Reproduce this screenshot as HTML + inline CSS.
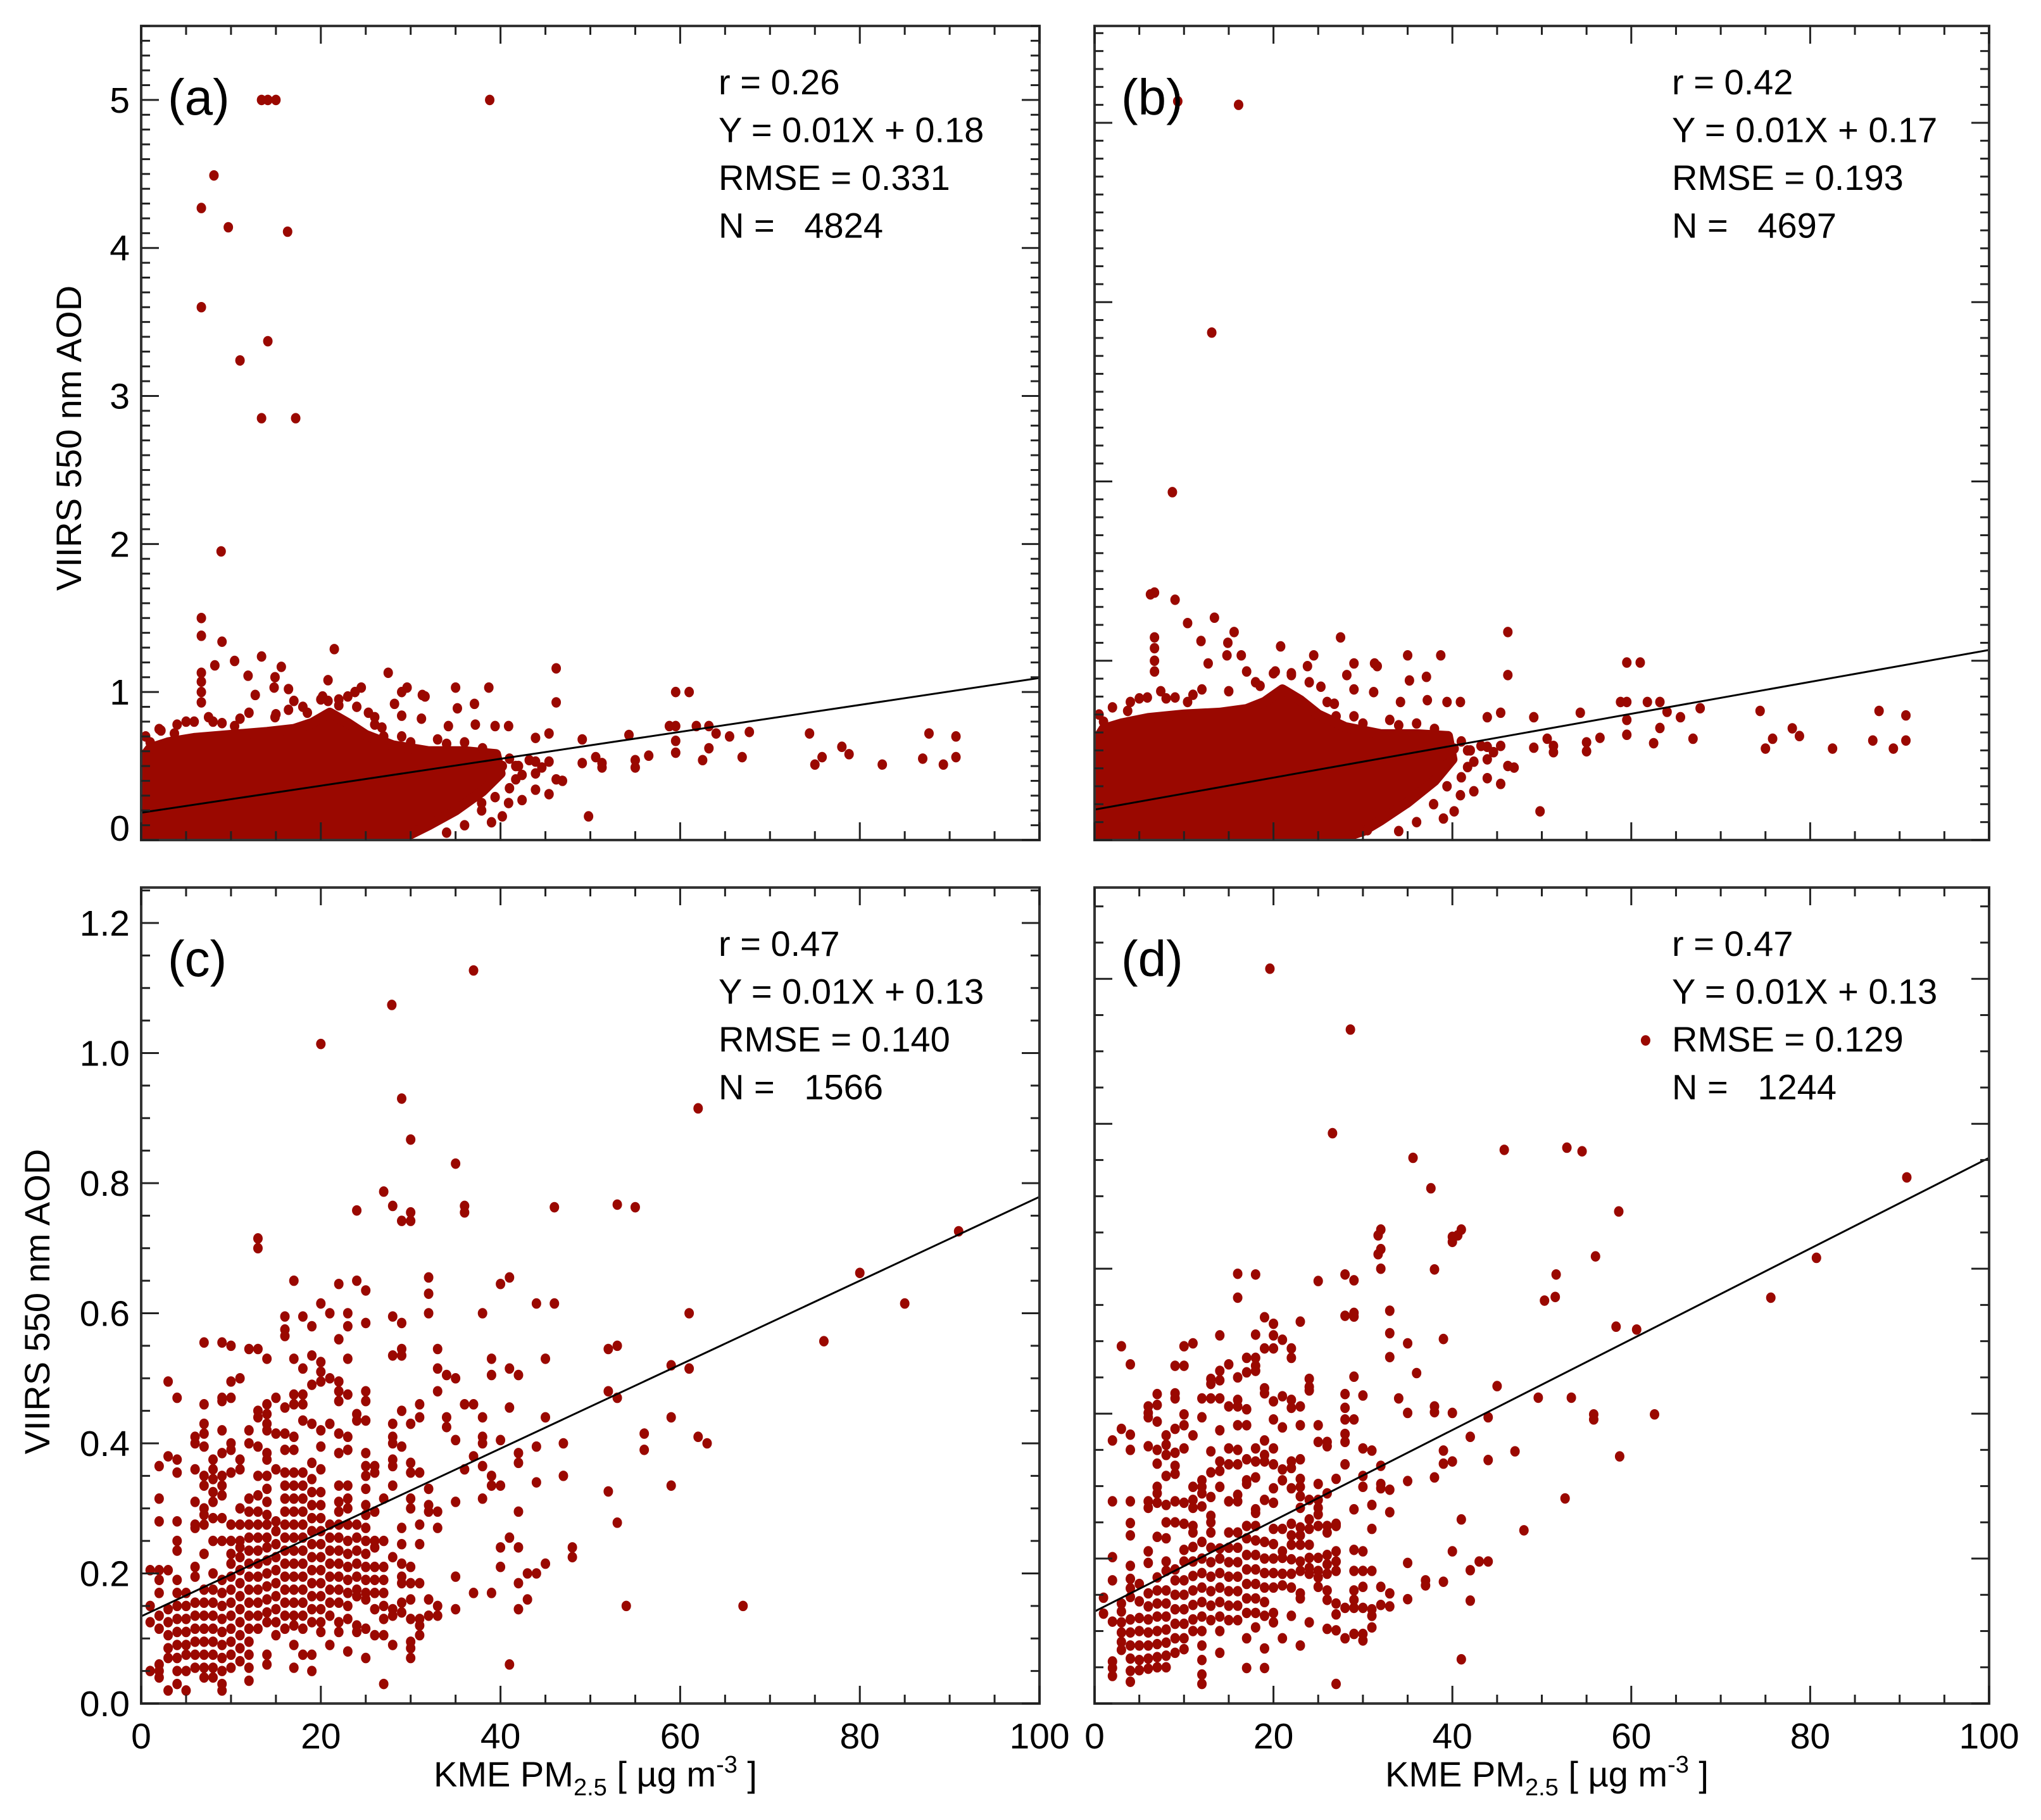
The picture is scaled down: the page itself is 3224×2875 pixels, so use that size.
<!DOCTYPE html>
<html><head><meta charset="utf-8"><title>VIIRS AOD vs KME PM2.5</title>
<style>html,body{margin:0;padding:0;background:#fff}svg{display:block}text{font-family:"Liberation Sans",Arial,sans-serif;fill:#000}</style>
</head><body>
<svg id="fig" xmlns="http://www.w3.org/2000/svg" width="3224" height="2875" viewBox="0 0 3224 2875">
<rect width="3224" height="2875" fill="#fff"/>
</svg>
<script>
// ---------- data (x = KME PM2.5, y = VIIRS AOD) ----------
const xTicks = [0,20,40,60,80,100];
const xTickLabels = ["0","20","40","60","80","100"];
const yTicksAB = [0,1,2,3,4,5];
const yTickLabelsA = ["0","1","2","3","4","5"];
const yTicksCD = [0,0.2,0.4,0.6,0.8,1.0,1.2];
const yTickLabelsC = ["0.0","0.2","0.4","0.6","0.8","1.0","1.2"];

const statsA = ["r = 0.26","Y = 0.01X + 0.18","RMSE = 0.331","N =   4824"];
const statsB = ["r = 0.42","Y = 0.01X + 0.17","RMSE = 0.193","N =   4697"];
const statsC = ["r = 0.47","Y = 0.01X + 0.13","RMSE = 0.140","N =   1566"];
const statsD = ["r = 0.47","Y = 0.01X + 0.13","RMSE = 0.129","N =   1244"];

const fitA = [0.0091, 0.185];
const fitB = [0.0089, 0.17];
const fitC = [0.00645, 0.134];
const fitD = [0.00626, 0.127];

// dense-core outline (a)
const aCoreX = [0,0.5,1,3,6,10,14,17,19,21,23,25,28,32,36,39.5,40,38,35,32,30,27,0];
const aCoreY = [0,0.58,0.62,0.66,0.69,0.71,0.73,0.75,0.79,0.86,0.79,0.71,0.64,0.60,0.60,0.58,0.45,0.33,0.20,0.10,0.04,0,0];
const aX = [13.4,14.1,15,38.8,6.7,8.1,9.7,16.3,6.7,11,14.1,13.4,17.2,8.9,
 6.7,6.7,9,21.5,10.4,13.4,8.2,15.6,27.5,46.2,11.9,14.9,20.8,6.7,6.7,6.7,6.7,35,38.7,59.5,61,46.2,35.2,37.1,31.3,31.6,14.8,16.4,
 20.2,20.8,22,23,23.8,24.5,29,29.6,28.2,29,31.2,25.3,26,26.8,17,16.4,18.5,14.9,12.7,7.5,5.9,9,10.4,2.2,3.7,
 2,4,5,8,11,12,15,18,20,22,24,26,27,29,30,33,34,36,38,41,42,41,39,36,34,1,0.5,
 40.9,39.4,37.2,34.2,43.9,45.4,49.1,54.3,58.8,59.5,61.8,63.2,64,65.5,67.7,74.4,87.7,90.7,59.5,63.2,59.5,66.9,75,75.8,78,78.8,82.5,87,89.3,90.7,62.5,56.5,55,55,51.3,51.3,50.6,49.1,45.4,43.9,43.2,41.7,40.2,44.6,43.9,42.4,41.7,39.4,38.7,46.2,46.9,43.9,45.4,42.4,40.9,39.4,37.9,37.9,40.2,49.8,30.5,34.9,32];
const aY = [5,5,5,5,4.27,4.49,4.14,4.11,3.6,3.24,3.37,2.85,2.85,1.95,
 1.50,1.38,1.34,1.29,1.21,1.24,1.18,1.17,1.13,1.16,1.11,1.10,1.08,1.13,1.07,1.00,0.93,1.03,1.03,1.0,1.0,0.93,0.89,0.92,0.98,0.97,1.03,1.02,
 0.97,0.94,0.91,0.97,1.0,1.03,1.0,1.03,0.92,0.84,0.82,0.86,0.83,0.76,0.94,0.88,0.86,0.83,0.98,0.83,0.80,0.79,0.77,0.74,0.72,
 0.75,0.78,0.80,0.80,0.82,0.86,0.85,0.90,0.95,0.95,0.90,0.78,0.70,0.70,0.66,0.68,0.65,0.66,0.62,0.55,0.50,0.35,0.12,0.10,0.05,0.66,0.70,
 0.77,0.77,0.78,0.77,0.69,0.72,0.68,0.71,0.77,0.77,0.77,0.77,0.72,0.70,0.73,0.72,0.72,0.70,0.67,0.62,0.59,0.56,0.51,0.56,0.63,0.58,0.51,0.55,0.51,0.56,0.54,0.57,0.54,0.49,0.52,0.49,0.56,0.52,0.53,0.53,0.54,0.50,0.50,0.49,0.45,0.44,0.41,0.42,0.42,0.41,0.40,0.34,0.31,0.27,0.25,0.29,0.25,0.20,0.16,0.16,0.06,0.20,0.14];

// dense-core outline (b)
const bCoreX = [0,0.5,1,3,6,10,14,17,19,21,23,25,28,32,36,39.5,40,38,35,32,30,27,0];
const bCoreY = [0,0.58,0.62,0.65,0.68,0.70,0.71,0.73,0.77,0.84,0.78,0.70,0.63,0.59,0.59,0.58,0.45,0.33,0.21,0.11,0.05,0,0];
const bX = [9.3,16.1,13.1,8.7,6.25,
 6.7,9,10.4,13.4,15.6,27.5,46.2,6.7,6.7,6.7,6.7,11.9,14.9,20.8,35,38.7,59.5,61,46.2,35.2,37.1,31.3,31.6,14.8,16.4,7.4,5.9,9,10.4,3.7,2.2,20.2,22,23.8,24.5,29,28.2,29,31.2,25.3,26.8,17,18.5,12.7,
 2,4,5,8,11,12,15,18,20,22,24,26,27,29,30,33,34,36,38,41,42,41,39,36,34,1,0.5,
 40.9,39.4,37.2,34.2,43.9,45.4,49.1,54.3,58.8,59.5,61.8,63.2,64,65.5,67.7,74.4,87.7,90.7,59.5,63.2,59.5,66.9,75,75.8,78,78.8,82.5,87,89.3,90.7,62.5,56.5,55,55,51.3,51.3,50.6,49.1,45.4,43.9,43.2,41.7,40.2,44.6,43.9,42.4,41.7,39.4,38.7,46.2,46.9,43.9,45.4,42.4,40.9,39.4,37.9,40.2,49.8,30.5,34.9,32];
const bY = [4.12,4.1,2.83,1.94,1.37,
 1.38,1.34,1.21,1.24,1.16,1.13,1.16,1.13,1.07,1.0,0.94,1.11,1.10,1.08,1.03,1.03,0.99,0.99,0.92,0.89,0.91,0.985,0.97,1.03,1.03,0.83,0.795,0.795,0.77,0.72,0.565,0.94,0.92,0.97,1.03,0.985,0.92,0.84,0.825,0.855,0.76,0.94,0.86,0.985,
 0.74,0.77,0.79,0.79,0.81,0.84,0.83,0.88,0.93,0.93,0.88,0.77,0.69,0.69,0.65,0.67,0.64,0.65,0.62,0.55,0.50,0.35,0.12,0.10,0.05,0.66,0.70,
 0.77,0.77,0.78,0.77,0.685,0.71,0.685,0.71,0.77,0.77,0.77,0.77,0.715,0.685,0.735,0.72,0.72,0.695,0.67,0.625,0.587,0.565,0.51,0.565,0.623,0.58,0.51,0.555,0.51,0.555,0.54,0.57,0.545,0.495,0.525,0.49,0.565,0.515,0.525,0.52,0.525,0.5,0.51,0.49,0.45,0.437,0.407,0.42,0.42,0.413,0.404,0.345,0.313,0.272,0.25,0.30,0.2,0.16,0.16,0.055,0.207,0.155];

// panel (c): columns by integer PM2.5
const cColX = [1,2,3,4,5,6,7,8,9,10,11,12,13,14,15,16,17,18,19,20,21,22,23,24,25,26,27,28,29,30,31,32,33,34,35,36,37,38,39,40,41,42,43,44,45,46,47,48];
const cColY = [
 [.205,.15,.125,.05],
 [.365,.315,.28,.205,.19,.17,.135,.115,.06,.05,.04],
 [.495,.38,.205,.145,.125,.105,.085,.07,.02],
 [.47,.375,.355,.28,.25,.235,.19,.17,.15,.13,.11,.09,.07,.05,.03],
 [.17,.15,.13,.11,.09,.075,.05,.02],
 [.41,.4,.36,.31,.275,.27,.21,.195,.155,.135,.115,.095,.075,.055],
 [.555,.46,.43,.415,.395,.35,.335,.3,.29,.275,.23,.175,.155,.135,.115,.095,.075,.055,.04],
 [.375,.36,.345,.325,.31,.285,.25,.2,.175,.155,.135,.115,.095,.075,.055,.04],
 [.555,.47,.465,.42,.385,.35,.335,.32,.285,.25,.19,.17,.15,.13,.11,.09,.07,.05,.03,.02],
 [.55,.495,.47,.4,.39,.355,.275,.25,.23,.215,.195,.175,.155,.135,.115,.095,.075,.055],
 [.5,.375,.36,.3,.275,.25,.24,.225,.205,.185,.165,.145,.125,.105,.085,.065],
 [.545,.42,.4,.315,.295,.275,.255,.235,.215,.195,.175,.155,.135,.115,.095,.075,.055,.035],
 [.715,.545,.45,.44,.395,.35,.32,.295,.275,.255,.235,.215,.195,.175,.155,.135,.115],
 [.53,.46,.445,.43,.42,.385,.375,.35,.33,.31,.29,.275,.255,.24,.22,.2,.18,.16,.14,.125,.075,.06],
 [.47,.415,.36,.28,.265,.245,.225,.205,.185,.165,.145,.125,.105],
 [.595,.575,.565,.455,.415,.39,.355,.335,.315,.295,.275,.255,.235,.215,.195,.175,.155,.135,.115],
 [.65,.53,.475,.46,.41,.39,.355,.335,.315,.295,.275,.255,.235,.215,.195,.175,.155,.135,.12,.09,.055],
 [.595,.515,.475,.46,.435,.355,.335,.315,.295,.275,.255,.235,.215,.195,.175,.155,.135,.115,.075],
 [.58,.535,.49,.43,.37,.345,.325,.305,.285,.265,.245,.225,.205,.185,.165,.145,.125,.075,.05],
 [.615,.525,.51,.495,.42,.395,.36,.325,.305,.285,.265,.245,.225,.205,.185,.165,.145,.125,.11],
 [.6,.5,.43,.275,.255,.235,.215,.195,.175,.155,.135,.09],
 [.645,.56,.495,.48,.465,.415,.385,.335,.31,.295,.275,.255,.235,.215,.195,.175,.155,.125,.11],
 [.6,.58,.53,.475,.41,.39,.335,.315,.3,.275,.25,.23,.21,.19,.17,.15,.13,.08],
 [.65,.445,.435,.275,.255,.235,.215,.195,.175,.165,.12,.11],
 [.635,.585,.48,.465,.435,.385,.365,.35,.33,.305,.29,.27,.25,.23,.21,.19,.17,.16,.115,.07],
 [.365,.355,.295,.25,.24,.21,.19,.17,.145,.105],
 [.315,.25,.21,.19,.17,.15,.13,.105,.03],
 [.595,.535,.43,.41,.4,.375,.365,.335,.225,.145,.135,.09],
 [.585,.545,.535,.45,.395,.27,.245,.215,.195,.185,.155,.14],
 [.755,.43,.37,.355,.315,.3,.21,.185,.16,.13,.095,.085,.07],
 [.46,.44,.355,.275,.245,.185,.13,.12,.105],
 [.655,.63,.6,.33,.305,.295,.16,.135],
 [.545,.515,.48,.295,.27,.15,.135],
 [.505,.44,.425],
 [.5,.405,.31,.195,.145],
 [.765,.46,.36],
 [.46,.38,.17],
 [.6,.44,.41,.4,.365,.315],
 [.53,.505,.35,.335,.17],
 [.645,.405,.335,.24,.21],
 [.655,.515,.455,.255,.06],
 [.505,.385,.37,.295,.24,.185,.145],
 [.2,.16],
 [.615,.395,.34,.2],
 [.53,.44,.215],
 [.615],
 [.4,.35],
 [.24]];
const cX = [37,27.9,20,29,30,62,35,27,28,29,30,13,24,36,46,53,55,53,52,61,59,61,52,53,56,56,59,63,62,59,53,54,67,76,80,85,91,52,48];
const cY = [1.127,1.074,1.014,0.93,0.867,0.915,0.83,0.787,0.765,0.742,0.742,0.70,0.758,0.755,0.763,0.767,0.763,0.55,0.545,0.6,0.52,0.515,0.48,0.47,0.415,0.39,0.44,0.4,0.41,0.335,0.278,0.15,0.15,0.557,0.662,0.615,0.726,0.326,0.225];

// panel (d): columns by integer PM2.5
const dColX = [1,2,3,4,5,6,7,8,9,10,11,12,13,14,15,16,17,18,19,20,21,22,23,24,25,26,27,28,29,30,31,32,33,34,35,36,37,38,39,40,41,42,43,44,45,47,48];
const dColY = [
 [.146,.124],
 [.363,.279,.202,.17,.113,.058,.049,.038],
 [.493,.379,.138,.127,.112,.098,.085,.074],
 [.468,.371,.35,.279,.249,.232,.19,.172,.159,.147,.116,.098,.08,.062,.045,.03],
 [.165,.141,.118,.1,.08,.06,.046],
 [.41,.401,.395,.355,.279,.27,.21,.194,.152,.134,.116,.098,.08,.062,.048],
 [.427,.412,.389,.35,.331,.299,.29,.277,.23,.174,.156,.138,.12,.1,.082,.064,.05],
 [.37,.357,.343,.314,.274,.25,.228,.196,.183,.156,.138,.12,.102,.084,.066,.05],
 [.466,.428,.421,.379,.346,.328,.317,.279,.25,.185,.17,.15,.13,.11,.09,.07],
 [.493,.466,.399,.384,.352,.277,.248,.212,.196,.17,.15,.13,.11,.09,.075],
 [.497,.37,.299,.281,.27,.245,.236,.216,.196,.176,.156,.136,.116,.1],
 [.421,.395,.308,.299,.29,.272,.223,.2,.18,.16,.14,.12,.1,.08,.06,.04,.027],
 [.448,.441,.421,.348,.319,.285,.259,.25,.236,.215,.195,.175,.155,.135,.115],
 [.508,.459,.446,.421,.377,.334,.321,.299,.214,.2,.18,.16,.14,.12,.1,.07],
 [.468,.41,.352,.33,.279,.236,.215,.195,.175,.155,.135,.115],
 [.593,.56,.45,.419,.41,.384,.35,.33,.288,.279,.236,.215,.195,.175,.155,.135,.115],
 [.477,.457,.406,.384,.337,.308,.303,.245,.228,.205,.185,.165,.145,.125,.09,.049],
 [.592,.509,.477,.466,.459,.352,.334,.312,.268,.263,.245,.225,.205,.185,.165,.145,.125,.105],
 [.533,.49,.435,.428,.363,.343,.334,.281,.223,.2,.18,.16,.14,.121,.076,.049],
 [.524,.508,.49,.417,.392,.352,.33,.297,.277,.241,.22,.2,.18,.16,.125,.112],
 [.502,.424,.381,.323,.308,.241,.21,.201,.179,.163,.09],
 [.49,.477,.419,.408,.334,.325,.297,.248,.232,.219,.199,.179,.16,.121],
 [.527,.41,.384,.337,.31,.299,.286,.27,.243,.232,.219,.196,.183,.152,.145,.08],
 [.448,.437,.432,.281,.254,.241,.219,.201,.187,.179,.112],
 [.583,.384,.361,.303,.281,.27,.261,.245,.201,.183,.174,.161],
 [.361,.355,.29,.245,.236,.205,.192,.179,.156,.143,.103],
 [.31,.248,.245,.21,.196,.183,.138,.123,.101,.027],
 [.592,.535,.427,.408,.392,.372,.361,.33,.132,.09],
 [.584,.539,.534,.451,.392,.268,.212,.183,.156,.143,.132,.096],
 [.425,.352,.314,.299,.21,.183,.161,.132,.096,.087],
 [.349,.274,.241,.183,.13,.121,.105],
 [.654,.627,.6,.328,.303,.297,.161,.136],
 [.542,.511,.478,.295,.264,.152,.134],
 [.421],
 [.497,.401,.307,.194,.144],
 [.456],
 [.17,.163],
 [.599,.41,.402,.312],
 [.503,.349,.331,.168],
 [.644,.401,.334,.21],
 [.654,.254,.061],
 [.368,.184,.142],
 [.196],
 [.395,.336,.196],
 [.438],
 [.348],
 [.239]];
const dX = [19.6,28.6,61.6,26.6,35.6,45.8,52.8,54.5,31.7,31.7,37.6,40.6,40,51.6,58.6,56,49.6,53.3,55.8,55.8,58.3,58.7,60.6,62.6,52.6,51.5,50.3,75.6,80.7,90.8];
const dY = [1.014,0.93,0.915,0.787,0.753,0.764,0.767,0.762,0.646,0.62,0.711,0.646,0.637,0.592,0.679,0.617,0.422,0.422,0.399,0.392,0.52,0.341,0.516,0.399,0.283,0.561,0.556,0.56,0.615,0.726];

// ---------- rendering ----------
const NS = "http://www.w3.org/2000/svg";
const svg = document.getElementById("fig");
const RED = "#9a0800";
function mk(tag, attrs, parent){
  const e = document.createElementNS(NS, tag);
  for (const k in attrs) e.setAttribute(k, attrs[k]);
  (parent||svg).appendChild(e);
  return e;
}
const panels = {
  a:{x0:223,x1:1642,y0:41,y1:1327,ymax:5.5,minor:0.1,major:1},
  b:{x0:1729,x1:3142,y0:41,y1:1327,ymax:4.54,minor:0.1,major:1},
  c:{x0:223,x1:1642,y0:1402,y1:2691,ymax:1.2545,minor:0.05,major:0.2},
  d:{x0:1729,x1:3142,y0:1402,y1:2691,ymax:1.126,minor:0.05,major:0.2}
};
function sx(p,v){return p.x0 + v/100*(p.x1-p.x0);}
function sy(p,v){return p.y1 - v/p.ymax*(p.y1-p.y0);}

function drawPanel(key, opts){
  const p = panels[key];
  const g = mk("g", {});
  
  
  const clipId = "clip-" + key;
  const cp = mk("clipPath", {id:clipId}, g);
  mk("rect", {x:p.x0, y:p.y0, width:p.x1-p.x0, height:p.y1-p.y0}, cp);
  const marks = mk("g", {"clip-path":"url(#"+clipId+")"}, g);
  
  
  if (opts.coreX){
    const pts = opts.coreX.map((x,i)=> sx(p,x)+","+sy(p,opts.coreY[i])).join(" ");
    const poly = mk("polygon", {points:pts, fill:RED, stroke:RED, "stroke-width":16, "stroke-linejoin":"round"}, marks);
    
    
  }
  function dot(x,y){
    const c = mk("ellipse", {cx:sx(p,x), cy:sy(p,y), rx:7.5, ry:8.3, fill:RED}, marks);
    
    
  }
  if (opts.colX){
    opts.colX.forEach((x,i)=> opts.colY[i].forEach(y=>dot(x,y)));
  }
  opts.xs.forEach((x,i)=>dot(x, opts.ys[i]));
  const fit = opts.fit;
  const ln = mk("line", {x1:sx(p,0), y1:sy(p,fit[1]), x2:sx(p,100), y2:sy(p,fit[0]*100+fit[1]), stroke:"#000", "stroke-width":3}, marks);
  
  
  const fr = mk("rect", {x:p.x0, y:p.y0, width:p.x1-p.x0, height:p.y1-p.y0, fill:"none", stroke:"#333", "stroke-width":4}, g);
  
  
  const tg = mk("g", {stroke:"#222", "stroke-width":3}, g);
  
  
  for (let v=0; v<=100.001; v+=5){
    const L = (Math.abs(v/20-Math.round(v/20))<1e-6) ? 28 : 14;
    const X = sx(p,v);
    mk("line", {x1:X, y1:p.y1, x2:X, y2:p.y1-L}, tg);
    mk("line", {x1:X, y1:p.y0, x2:X, y2:p.y0+L}, tg);
  }
  const nMinor = Math.floor(p.ymax/p.minor + 1e-6);
  const per = Math.round(p.major/p.minor);
  for (let i=0; i<=nMinor; i++){
    const v = i*p.minor;
    const L = (i % per === 0) ? 28 : 14;
    const Y = sy(p,v);
    mk("line", {x1:p.x0, y1:Y, x2:p.x0+L, y2:Y}, tg);
    mk("line", {x1:p.x1, y1:Y, x2:p.x1-L, y2:Y}, tg);
  }
  if (opts.yTicks){
    opts.yTicks.forEach((v,i)=>{
      let Y = sy(p,v) + 20;
      if (v===0 && key==='a') Y -= 19;
      const t = mk("text", {x:p.x0-18, y:Y, "font-size":57, "text-anchor":"end"}, g);
      t.textContent = opts.yTickLabels[i];
      
      
    });
  }
  if (opts.xLabels){
    xTicks.forEach((v,i)=>{
      const t = mk("text", {x:sx(p,v), y:2762, "font-size":57, "text-anchor":"middle"}, g);
      t.textContent = xTickLabels[i];
      
      
    });
    const xt = mk("text", {x:(p.x0+p.x1)/2+8, y:2822, "font-size":56, "text-anchor":"middle"}, g);
    
    
    xt.innerHTML = 'KME PM<tspan font-size="38" dy="14">2.5</tspan><tspan dy="-14"> [ µg m</tspan><tspan font-size="38" dy="-22">-3</tspan><tspan dy="22"> ]</tspan>';
  }
  if (opts.yTitle){
    const yt = mk("text", {x:0, y:0, "font-size":56, "text-anchor":"middle", transform:"translate("+opts.yTitle[0]+","+opts.yTitle[1]+") rotate(-90)"}, g);
    yt.textContent = "VIIRS 550 nm AOD";
    
    
  }
  const pl = mk("text", {x:p.x0+42, y:p.y0+140, "font-size":80}, g);
  pl.textContent = "(" + key + ")";
  
  
  opts.stats.forEach((s,i)=>{
    const t = mk("text", {x:p.x0+912, y:p.y0+108+i*75.5, "font-size":56}, g);
    t.setAttribute("style","white-space:pre");
    t.textContent = s;
    
    
  });
}

drawPanel('a', {coreX:aCoreX, coreY:aCoreY, xs:aX, ys:aY, fit:fitA, stats:statsA, yTicks:yTicksAB, yTickLabels:yTickLabelsA, yTitle:[128,692]});
drawPanel('b', {coreX:bCoreX, coreY:bCoreY, xs:bX, ys:bY, fit:fitB, stats:statsB});
drawPanel('c', {colX:cColX, colY:cColY, xs:cX, ys:cY, fit:fitC, stats:statsC, yTicks:yTicksCD, yTickLabels:yTickLabelsC, xLabels:true, yTitle:[78,2056]});
drawPanel('d', {colX:dColX, colY:dColY, xs:dX, ys:dY, fit:fitD, stats:statsD, xLabels:true});
</script>
</body></html>
